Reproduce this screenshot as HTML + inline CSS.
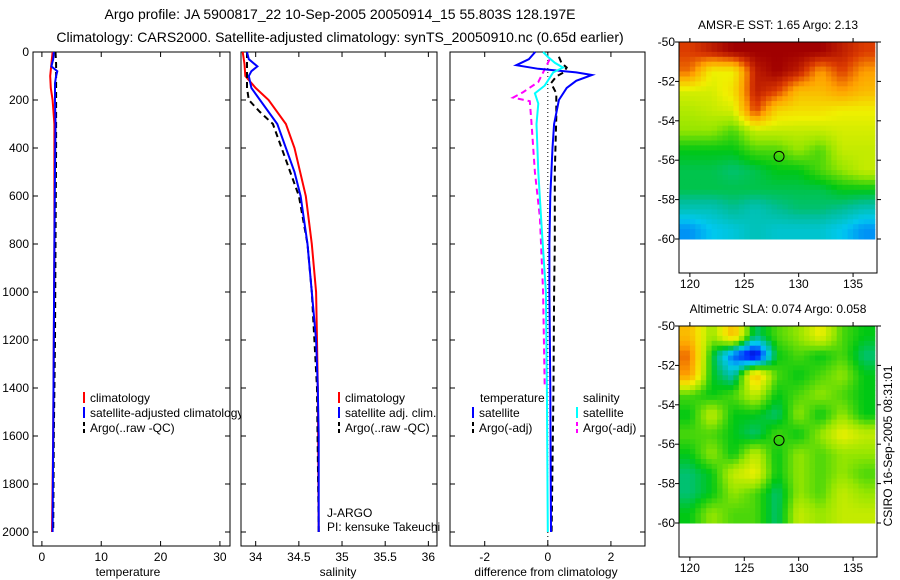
<!DOCTYPE html>
<html><head><meta charset="utf-8">
<style>
html,body{margin:0;padding:0;background:#fff;}
svg{display:block;font-family:"Liberation Sans",sans-serif;font-size:12px;}
</style></head>
<body>
<svg id="fig" width="900" height="580" viewBox="0 0 900 580">
<text x="340" y="19" text-anchor="middle" font-size="14">Argo profile: JA 5900817_22 10-Sep-2005 20050914_15 55.803S 128.197E</text>
<text x="340" y="42" text-anchor="middle" font-size="14">Climatology: CARS2000. Satellite-adjusted climatology: synTS_20050910.nc (0.65d earlier)</text>
<g id="g1"></g><g id="g2"></g><g id="g3"></g><g id="m1"></g><g id="m2"></g>
<text transform="translate(892,446) rotate(-90)" text-anchor="middle">CSIRO 16-Sep-2005 08:31:01</text>
</svg>
<script>
// ---------- data ----------
const depthTicks=[0,200,400,600,800,1000,1200,1400,1600,1800,2000];
const tempTicks=[0,10,20,30];
const salTicks=[34,34.5,35,35.5,36];
const salTickLabels=["34","34.5","35","35.5","36"];
const diffTicks=[-2,0,2];

const tDepthArgo=[0,30,60,80,100,130,200,300,500,800,1200,1600,2000];
const tempArgo=[2.0,1.9,1.6,2.6,2.4,2.2,2.2,2.3,2.2,2.1,2.0,1.9,1.8];
const tDepthClim=[0,50,100,150,200,300,500,800,1200,1600,2000];
const tempClim=[1.8,1.6,1.4,1.5,1.8,2.1,2.1,2.1,2.0,1.9,1.7];
const tDepthRaw=[0,50,100,200,400,800,1200,1600,2000];
const tempRaw=[2.3,2.4,2.4,2.4,2.4,2.3,2.2,2.0,1.9];

const sDepthArgo=[0,30,60,80,100,150,200,300,400,500,600,800,1000,1200,1400,1600,2000];
const salArgo=[33.9,33.92,34.02,33.95,33.92,33.95,34.05,34.25,34.35,34.45,34.52,34.6,34.65,34.7,34.72,34.73,34.73];
const sDepthClim=[0,50,100,150,200,300,400,600,800,1000,1200,1400,2000];
const salClim=[33.85,33.87,33.88,34.0,34.15,34.35,34.45,34.58,34.65,34.7,34.71,34.72,34.73];
const sDepthRaw=[0,100,150,200,250,300,400,600,800,1000,1400,2000];
const salRaw=[33.9,33.9,33.9,33.92,34.05,34.2,34.3,34.5,34.6,34.65,34.71,34.73];

const dDepthSatT=[0,30,55,70,85,96,120,150,200,300,400,600,800,1000,1400,2000];
const diffSatT=[-0.4,-0.6,-1.0,-0.3,0.9,1.4,0.9,0.6,0.35,0.2,0.15,0.08,0.05,0.05,0.08,0.1];
const dDepthArgoT=[20,45,65,85,102,130,172,270,500,800,1000,1400,2000];
const diffArgoT=[0.35,0.43,0.6,0.5,0.27,0.1,0.27,0.27,0.22,0.22,0.2,0.18,0.12];
const dDepthSatS=[0,20,45,65,85,140,172,215,300,500,720,1000,1400,2000];
const diffSatS=[-0.15,0.0,0.22,0.48,0.17,-0.1,-0.41,-0.3,-0.36,-0.3,-0.2,-0.06,-0.03,0.0];
const dDepthArgoS=[30,72,125,167,190,205,290,500,690,1000,1400];
const diffArgoS=[0.06,-0.1,-0.3,-0.78,-1.1,-0.57,-0.52,-0.41,-0.25,-0.15,-0.1];

const sstGrid=[
[.9,.95,1,1,1,1,1,.95,.9],
[.85,.65,.65,.95,1,.95,.8,.9,.8],
[.62,.62,.68,.95,.9,.75,.75,.8,.75],
[.58,.6,.62,.9,.7,.68,.68,.65,.65],
[.55,.55,.5,.6,.6,.6,.6,.62,.62],
[.45,.45,.45,.5,.5,.55,.5,.6,.6],
[.42,.42,.4,.42,.45,.45,.5,.55,.6],
[.42,.42,.42,.42,.42,.42,.42,.45,.45],
[.35,.35,.38,.35,.38,.4,.4,.38,.35],
[.25,.3,.32,.35,.33,.33,.33,.3,.25]];
const slaGrid=[
[.75,.55,.75,.4,.5,.55,.65,.5,.45],
[.85,.45,.2,.05,.45,.5,.45,.5,.4],
[.8,.45,.35,.75,.5,.45,.5,.55,.45],
[.5,.45,.5,.6,.45,.5,.55,.5,.45],
[.45,.6,.45,.45,.4,.55,.45,.55,.45],
[.5,.5,.45,.4,.5,.45,.55,.65,.6],
[.45,.55,.45,.6,.45,.55,.5,.55,.55],
[.4,.45,.6,.65,.45,.55,.5,.55,.5],
[.4,.45,.55,.5,.4,.55,.5,.6,.55],
[.45,.55,.5,.5,.4,.6,.55,.6,.6]];
const latTicks=[-50,-52,-54,-56,-58,-60];
const lonTicks=[120,125,130,135];
const argoLon=128.197, argoLat=-55.803;

// ---------- helpers ----------
const NS="http://www.w3.org/2000/svg";
function mk(parent,tag,attrs,text){const e=document.createElementNS(NS,tag);for(const k in attrs)e.setAttribute(k,attrs[k]);if(text!==undefined)e.textContent=text;parent.appendChild(e);return e;}
const Y0=52,YS=0.24,TOP=52,BOT=546;
const yD=d=>Y0+d*YS;

function panel(g,x0,x1,vmin,vmax,name){
  const sx=v=>x0+(v-vmin)/(vmax-vmin)*(x1-x0);
  const r=mk(g,'rect',{x:x0,y:TOP,width:x1-x0,height:BOT-TOP,fill:'#fff',stroke:'#000','stroke-width':1});
  
  
  return sx;
}
function ticks(g,sx,x0,x1,xt,labels,ylabels,name){
  xt.forEach((v,i)=>{
    const x=sx(v);
    mk(g,'line',{x1:x,y1:TOP,x2:x,y2:TOP+5,stroke:'#000'});
    mk(g,'line',{x1:x,y1:BOT,x2:x,y2:BOT-5,stroke:'#000'});
    const t=mk(g,'text',{x:x,y:561,'text-anchor':'middle'},labels[i]);
    
    
  });
  depthTicks.forEach(d=>{
    const y=yD(d);
    mk(g,'line',{x1:x0,y1:y,x2:x0+5,y2:y,stroke:'#000'});
    mk(g,'line',{x1:x1,y1:y,x2:x1-5,y2:y,stroke:'#000'});
    if(ylabels){const t=mk(g,'text',{x:x0-4,y:y+4,'text-anchor':'end'},String(d));
      
      }
  });
}
function line(g,sx,xs,ds,color,dash,name){
  const pts=xs.map((v,i)=>sx(v).toFixed(1)+','+yD(ds[i]).toFixed(1)).join(' ');
  const a={points:pts,fill:'none',stroke:color,'stroke-width':2};
  if(dash)a['stroke-dasharray']=dash;
  const p=mk(g,'polyline',a);
  
  
}
function legend(g,x,y,color,dash,label,name){
  const a={x1:x,y1:y-10,x2:x,y2:y+1,stroke:color,'stroke-width':2};
  if(dash)a['stroke-dasharray']=dash;
  mk(g,'line',a);
  const t=mk(g,'text',{x:x+6,y:y},label);
  
  
}

// ---------- panel 1: temperature ----------
const g1=document.getElementById('g1');
const sx1=panel(g1,33,230,-1.5,31.7,'temperature');
ticks(g1,sx1,33,230,tempTicks,tempTicks.map(String),true,'temperature');
line(g1,sx1,tempClim,tDepthClim,'#f00',null,'temp-climatology-line');
line(g1,sx1,tempRaw,tDepthRaw,'#000','6,4','temp-argo-raw-line');
line(g1,sx1,tempArgo,tDepthArgo,'#00f',null,'temp-satellite-adjusted-line');
mk(g1,'text',{x:128,y:576,'text-anchor':'middle',},'temperature');
legend(g1,84,402,'#f00',null,'climatology','legend-climatology');
legend(g1,84,417,'#00f',null,'satellite-adjusted climatology','legend-satellite-adjusted');
legend(g1,84,432,'#000','4,3','Argo(..raw -QC)','legend-argo-raw');

// ---------- panel 2: salinity ----------
const g2=document.getElementById('g2');
const sx2=panel(g2,241,437,33.83,36.1,'salinity');
ticks(g2,sx2,241,437,salTicks,salTickLabels,false,'salinity');
line(g2,sx2,salClim,sDepthClim,'#f00',null,'sal-climatology-line');
line(g2,sx2,salRaw,sDepthRaw,'#000','6,4','sal-argo-raw-line');
line(g2,sx2,salArgo,sDepthArgo,'#00f',null,'sal-satellite-adjusted-line');
mk(g2,'text',{x:338,y:576,'text-anchor':'middle',},'salinity');
legend(g2,339,402,'#f00',null,'climatology','legend-sal-climatology');
legend(g2,339,417,'#00f',null,'satellite adj. clim.','legend-sal-satellite');
legend(g2,339,432,'#000','4,3','Argo(..raw -QC)','legend-sal-argo-raw');
mk(g2,'text',{x:327,y:517,},'J-ARGO');
mk(g2,'text',{x:327,y:531,},'PI: kensuke Takeuchi');

// ---------- panel 3: difference ----------
const g3=document.getElementById('g3');
const sx3=panel(g3,450,645,-3.1,3.08,'difference');
ticks(g3,sx3,450,645,diffTicks,diffTicks.map(String),false,'difference');
mk(g3,'line',{x1:sx3(0),y1:TOP,x2:sx3(0),y2:BOT,stroke:'#000','stroke-dasharray':'1,3'});
line(g3,sx3,diffArgoS,dDepthArgoS,'#f0f','6,4','diff-sal-argo-line');
line(g3,sx3,diffArgoT,dDepthArgoT,'#000','6,4','diff-temp-argo-line');
line(g3,sx3,diffSatT,dDepthSatT,'#00f',null,'diff-temp-satellite-line');
line(g3,sx3,diffSatS,dDepthSatS,'#0ff',null,'diff-sal-satellite-line');
mk(g3,'text',{x:546,y:576,'text-anchor':'middle',},'difference from climatology');
mk(g3,'text',{x:480,y:402,},'temperature');
mk(g3,'text',{x:583,y:402,},'salinity');
legend(g3,473,417,'#00f',null,'satellite','legend-temp-satellite');
legend(g3,473,432,'#000','4,3','Argo(-adj)','legend-temp-argo');
legend(g3,577,417,'#0ff',null,'satellite','legend-sal-satellite-diff');
legend(g3,577,432,'#f0f','4,3','Argo(-adj)','legend-sal-argo');

// ---------- maps ----------
const cmapStops=[[0,[0,0,140]],[.15,[0,40,255]],[.3,[0,200,240]],[.38,[0,190,150]],[.45,[0,200,20]],[.55,[150,230,0]],[.65,[240,240,0]],[.8,[255,160,0]],[.9,[220,60,0]],[1,[160,0,0]]];
function cmap(v){
  v=Math.max(0,Math.min(1,v));
  for(let i=1;i<cmapStops.length;i++){
    const [a,ca]=cmapStops[i-1],[b,cb]=cmapStops[i];
    if(v<=b){const t=(v-a)/(b-a);return 'rgb('+ca.map((c,k)=>Math.round(c+(cb[k]-c)*t)).join(',')+')';}
  }
  return 'rgb(160,0,0)';
}
function sample(grid,r,c){ // bilinear on cell centres
  const nr=grid.length,nc=grid[0].length;
  r=Math.max(0,Math.min(nr-1,r));c=Math.max(0,Math.min(nc-1,c));
  const r0=Math.floor(r),c0=Math.floor(c),r1=Math.min(nr-1,r0+1),c1=Math.min(nc-1,c0+1);
  const fr=r-r0,fc=c-c0;
  return grid[r0][c0]*(1-fr)*(1-fc)+grid[r0][c1]*(1-fr)*fc+grid[r1][c0]*fr*(1-fc)+grid[r1][c1]*fr*fc;
}
function map(g,grid,top,lat60y,bottom,title,name){
  const L=679,R=877,lon0=119,lon1=137.2;
  const sx=lon=>L+(lon-lon0)/(lon1-lon0)*(R-L);
  const sy=lat=>top+(-50-lat)/10*(lat60y-top);
  mk(g,'rect',{x:L,y:top,width:R-L,height:bottom-top,fill:'#fff'});
  const nr=grid.length,nc=grid[0].length,S=4;
  for(let i=0;i<nr*S;i++)for(let j=0;j<nc*S;j++){
    const v=sample(grid,(i+0.5)/S-0.5,(j+0.5)/S-0.5);
    const x=sx(lon0+j*2/S),w=sx(lon0+(j+1)*2/S)-x;
    const y=sy(-50-i/S),h=sy(-50-(i+1)/S)-y;
    const r=mk(g,'rect',{x:x.toFixed(1),y:y.toFixed(1),width:(w+0.5).toFixed(1),height:(h+0.5).toFixed(1),fill:cmap(v)});
    
    
  }
  mk(g,'rect',{x:L,y:top,width:R-L,height:bottom-top,fill:'none',stroke:'#000'});
  latTicks.forEach(lat=>{const y=sy(lat);
    mk(g,'line',{x1:L,y1:y,x2:L-4,y2:y,stroke:'#000'});
    mk(g,'line',{x1:R,y1:y,x2:R+4,y2:y,stroke:'#000'});
    const t=mk(g,'text',{x:L-4,y:y+4,'text-anchor':'end'},String(lat));
    
    });
  lonTicks.forEach(lon=>{const x=sx(lon);
    mk(g,'line',{x1:x,y1:top,x2:x,y2:top-4,stroke:'#000'});
    mk(g,'line',{x1:x,y1:bottom,x2:x,y2:bottom+4,stroke:'#000'});
    const t=mk(g,'text',{x:x,y:bottom+15,'text-anchor':'middle'},String(lon));
    
    });
  const c=mk(g,'circle',{cx:sx(argoLon),cy:sy(argoLat),r:5,fill:'none',stroke:'#000'});
  
  
  const t=mk(g,'text',{x:(L+R)/2,y:top-13,'text-anchor':'middle'},title);
  
  
}
map(document.getElementById('m1'),sstGrid,42,239,273,'AMSR-E SST: 1.65 Argo: 2.13','sst-map');
map(document.getElementById('m2'),slaGrid,326,523,557,'Altimetric SLA: 0.074 Argo: 0.058','sla-map');
</script>
</body></html>
